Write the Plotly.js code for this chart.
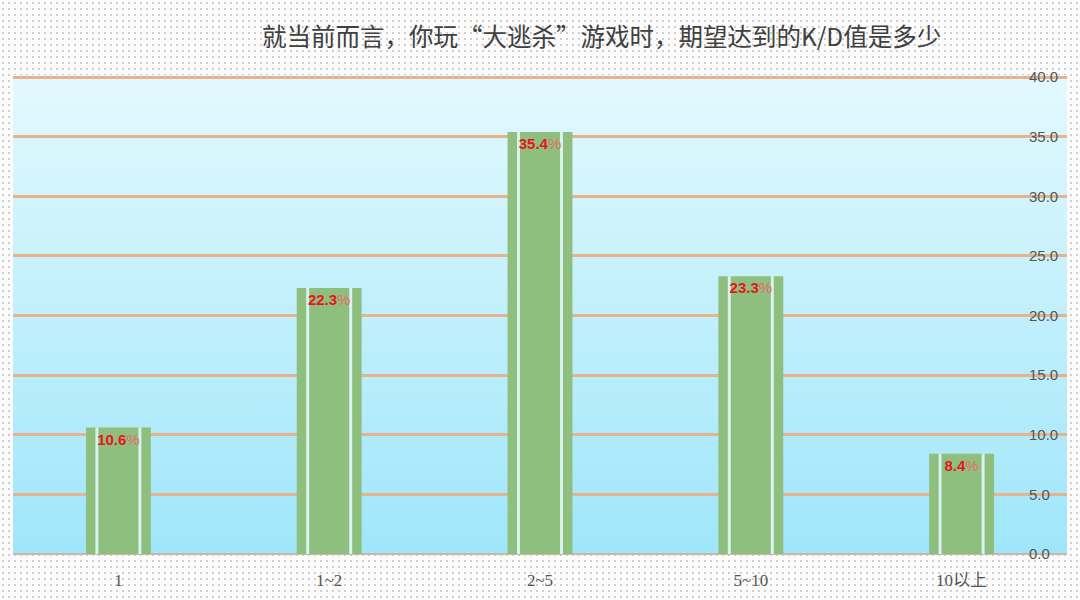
<!DOCTYPE html>
<html><head><meta charset="utf-8">
<script src="https://cdn.plot.ly/plotly-3.0.1.min.js"></script>
<style>
html,body{margin:0;padding:0;}
body{width:1080px;height:600px;background-color:#fbfbfb;
background-image:radial-gradient(circle,#cfcfcf 0.8px,transparent 1.2px);background-size:6px 6px;}
#chart{width:1080px;height:600px;}
</style></head>
<body><div id="chart"></div>
<script>
const categories = ['1', '1~2', '2~5', '5~10', '10以上'];
const values = [10.6, 22.3, 35.4, 23.3, 8.4];
const chartTitle = '就当前而言，你玩“大逃杀”游戏时，期望达到的K/D值是多少';
const yTicks = [0, 5, 10, 15, 20, 25, 30, 35, 40];

const green = '#8fbf7f';
const gapColor = 'rgba(225,248,254,0.9)';

const outer = {type:'bar', x:categories, y:values, width:0.308, marker:{color:green}, hoverinfo:'skip'};
const gap = {type:'bar', x:categories, y:values, width:0.218, marker:{color:gapColor}, hoverinfo:'skip'};
const inner = {type:'bar', x:categories, y:values, width:0.19, marker:{color:green}, hoverinfo:'skip'};
const labels = {type:'bar', x:categories, y:values, width:0.308, marker:{color:'rgba(0,0,0,0)'},
  text: values.map(v => '<b>' + v.toFixed(1) + '</b><span style="font-weight:normal;fill:#e86a6a">%</span>'),
  texttemplate:'%{text}', textposition:'inside', insidetextanchor:'end', constraintext:'none',
  textfont:{family:'Liberation Sans, Arial, sans-serif', size:15, color:'#e8151b'}, hoverinfo:'skip'};

const grad = 'data:image/svg+xml;utf8,' + encodeURIComponent(
  '<svg xmlns="http://www.w3.org/2000/svg" width="10" height="100" preserveAspectRatio="none">' +
  '<defs><linearGradient id="g" x1="0" y1="0" x2="0" y2="1">' +
  '<stop offset="0" stop-color="#e3f9fe"/><stop offset="1" stop-color="#9fe6fa"/></linearGradient></defs>' +
  '<rect width="10" height="100" fill="url(#g)"/></svg>');

const layout = {
  width:1080, height:600,
  margin:{l:13, r:13, t:75, b:46},
  paper_bgcolor:'rgba(0,0,0,0)', plot_bgcolor:'rgba(0,0,0,0)',
  barmode:'overlay', showlegend:false,
  title:{text:chartTitle, x:0.557, xanchor:'center', y:0.937, yanchor:'middle',
    font:{family:'Noto Sans CJK SC, Liberation Serif, serif', size:24.5, color:'#404040'}},
  xaxis:{type:'category', range:[-0.5, 4.5], showgrid:false, zeroline:false, showline:false,
    ticks:'', tickfont:{family:'Liberation Serif, Noto Sans CJK SC, serif', size:17, color:'#555'},
    ticklabelstandoff:14},
  yaxis:{side:'right', range:[0, 40.17], tickvals:yTicks, ticktext:yTicks.map(v=>v.toFixed(1)),
    ticklabelposition:'outside', ticklabelstandoff:-39,
    gridcolor:'#e6b38d', gridwidth:3, zeroline:true, zerolinecolor:'#c9b9ac', zerolinewidth:2,
    showline:false, ticks:'',
    tickfont:{family:'Liberation Sans, Arial, sans-serif', size:15, color:'#555'}},
  images:[{source:grad, xref:'paper', yref:'paper', x:0, y:1, sizex:1, sizey:1,
    xanchor:'left', yanchor:'top', sizing:'stretch', layer:'below'}]
};

Plotly.newPlot('chart', [outer, gap, inner, labels], layout, {displayModeBar:false, staticPlot:true});
</script></body></html>
